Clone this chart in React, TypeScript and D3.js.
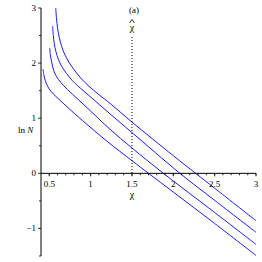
import React from 'react';
import * as d3 from 'd3';

// tick values
const chiTicks = [0.5, 1, 1.5, 2, 2.5, 3];
const chiMinor = [0.5, 0.6, 0.7, 0.8, 0.9, 1, 1.1, 1.2, 1.3, 1.4, 1.5, 1.6, 1.7, 1.8, 1.9, 2, 2.1, 2.2, 2.3, 2.4, 2.5, 2.6, 2.7, 2.8, 2.9, 3];
const lnTicks = [-1, 0, 1, 2, 3];
const lnMinor = [-1.5, -0.5, 0.5, 1.5, 2.5];
const chiHat = 1.5;

// curves, [chi, ln N]
const curve1 = [[0.425, 1.89], [0.435, 1.78], [0.45, 1.69], [0.47, 1.61], [0.5, 1.53], [0.55, 1.44], [0.62, 1.34], [0.72, 1.2], [0.9, 0.96], [1.2, 0.58], [1.5, 0.23], [1.7, 0], [2.0, -0.34], [2.5, -0.91], [3, -1.49]];
const curve2 = [[0.506, 2.27], [0.515, 2.13], [0.53, 2.01], [0.555, 1.86], [0.59, 1.75], [0.64, 1.65], [0.72, 1.52], [0.85, 1.34], [1.0, 1.13], [1.234, 0.8], [1.5, 0.46], [1.88, 0], [2.5, -0.71], [3, -1.29]];
const curve3 = [[0.541, 2.67], [0.549, 2.5], [0.56, 2.36], [0.58, 2.21], [0.61, 2.07], [0.65, 1.94], [0.71, 1.81], [0.78, 1.68], [0.911, 1.5], [1.05, 1.32], [1.234, 1.08], [1.5, 0.74], [2.08, 0], [2.5, -0.49], [3, -1.07]];
const curve4 = [[0.578, 3.0], [0.588, 2.8], [0.6, 2.64], [0.62, 2.47], [0.65, 2.3], [0.69, 2.15], [0.74, 2.01], [0.8, 1.88], [0.88, 1.73], [0.98, 1.58], [1.09, 1.44], [1.25, 1.25], [1.5, 0.93], [2.0, 0.32], [2.27, 0], [2.5, -0.27], [3, -0.86]];
const curves = [curve1, curve2, curve3, curve4];

export default function App() {
  const x = d3.scaleLinear().domain([0.4, 3]).range([41, 256]);
  const y = d3.scaleLinear().domain([-1.5, 3]).range([256, 8]);
  const line = d3
    .line<number[]>()
    .x(d => x(d[0]))
    .y(d => y(d[1]))
    .curve(d3.curveCatmullRom.alpha(0.5));
  const font = '"Liberation Serif", "Times New Roman", serif';
  const y0 = y(0);
  const hx = x(chiHat);

  return (
    <svg width={262} height={262} style={{ position: 'absolute', left: 0, top: 0 }} fontFamily={font}>
      <rect width={262} height={262} fill="white" />
      {/* curves */}
      {curves.map((c, i) => (
        <path key={i} d={line(c) || ''} fill="none" stroke="#1a1aff" strokeWidth={1} />
      ))}
      {/* dotted chi-hat line */}
      <line x1={hx} x2={hx} y1={37} y2={y0 + 2} stroke="black" strokeWidth={1} strokeDasharray="1,2" />
      {/* axes */}
      <line x1={x(0.4)} x2={x(3)} y1={y0} y2={y0} stroke="black" strokeWidth={1} />
      <line x1={x(0.4)} x2={x(0.4)} y1={y(3)} y2={y(-1.5)} stroke="black" strokeWidth={1} />
      {chiMinor.map(t => (
        <line key={'xm' + t} x1={x(t)} x2={x(t)} y1={y0} y2={y0 + 2} stroke="black" strokeWidth={0.8} />
      ))}
      {chiTicks.map(t => (
        <g key={'x' + t}>
          <line x1={x(t)} x2={x(t)} y1={y0} y2={y0 + 3} stroke="black" strokeWidth={0.8} />
          <text x={x(t)} y={y0 + 14} fontSize={9} textAnchor="middle">{t}</text>
        </g>
      ))}
      {lnMinor.map(t => (
        <line key={'ym' + t} x1={x(0.4) - 2} x2={x(0.4)} y1={y(t)} y2={y(t)} stroke="black" strokeWidth={0.8} />
      ))}
      {lnTicks.map(t => (
        <g key={'y' + t}>
          <line x1={x(0.4) - 3} x2={x(0.4)} y1={y(t)} y2={y(t)} stroke="black" strokeWidth={0.8} />
          <text x={x(0.4) - 5} y={y(t) + 3} fontSize={9} textAnchor="end">{t < 0 ? '\u2212' + Math.abs(t) : t}</text>
        </g>
      ))}
      {/* labels */}
      <text x={18} y={y(0.78) + 3} fontSize={9}>ln <tspan fontStyle="italic">N</tspan></text>
      <text x={hx} y={y0 + 25} fontSize={10} textAnchor="middle">χ</text>
      <text x={hx + 2} y={13} fontSize={9} textAnchor="middle">(a)</text>
      <text x={hx} y={31} fontSize={10} textAnchor="middle">χ</text>
      <path d={`M${hx - 2.5},${23} L${hx},${19.5} L${hx + 2.5},${23}`} fill="none" stroke="black" strokeWidth={0.8} />
    </svg>
  );
}
